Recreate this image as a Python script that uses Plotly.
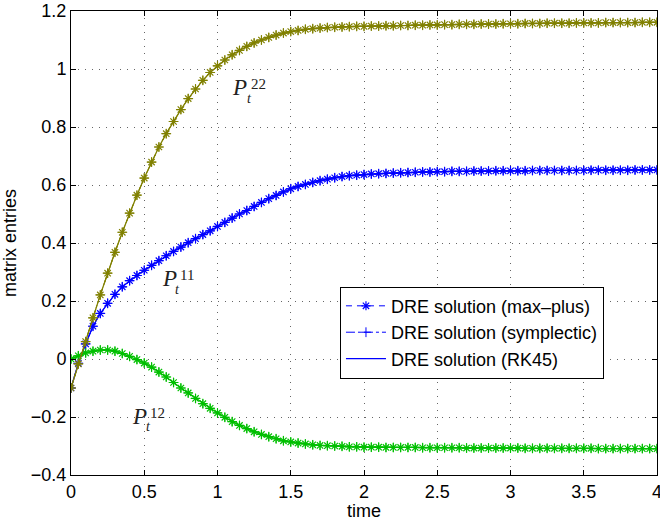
import plotly.graph_objects as go

# time grid
t = [0.0, 0.05, 0.1, 0.15, 0.2, 0.25, 0.3, 0.35, 0.4, 0.45,
     0.5, 0.55, 0.6, 0.65, 0.7, 0.75, 0.8, 0.85, 0.9, 0.95,
     1.0, 1.05, 1.1, 1.15, 1.2, 1.25, 1.3, 1.35, 1.4, 1.45,
     1.5, 1.55, 1.6, 1.65, 1.7, 1.75, 1.8, 1.85, 1.9, 1.95,
     2.0, 2.05, 2.1, 2.15, 2.2, 2.25, 2.3, 2.35, 2.4, 2.45,
     2.5, 2.55, 2.6, 2.65, 2.7, 2.75, 2.8, 2.85, 2.9, 2.95,
     3.0, 3.05, 3.1, 3.15, 3.2, 3.25, 3.3, 3.35, 3.4, 3.45,
     3.5, 3.55, 3.6, 3.65, 3.7, 3.75, 3.8, 3.85, 3.9, 3.95, 4.0]

P11 = [-0.100, -0.015, 0.052, 0.113, 0.157, 0.192, 0.223, 0.249, 0.270, 0.288,
       0.306, 0.323, 0.339, 0.356, 0.371, 0.386, 0.401, 0.415, 0.429, 0.442,
       0.457, 0.471, 0.486, 0.500, 0.512, 0.526, 0.540, 0.553, 0.564, 0.576,
       0.587, 0.595, 0.602, 0.609, 0.615, 0.620, 0.625, 0.629, 0.632, 0.634,
       0.636, 0.638, 0.639, 0.640, 0.641, 0.642, 0.643, 0.644, 0.645, 0.645,
       0.646, 0.646, 0.647, 0.647, 0.647, 0.648, 0.648, 0.648, 0.649, 0.649,
       0.649, 0.649, 0.649, 0.650, 0.650, 0.650, 0.650, 0.650, 0.650, 0.650,
       0.650, 0.651, 0.651, 0.651, 0.651, 0.651, 0.651, 0.652, 0.652, 0.652, 0.652]

P12 = [0.000, 0.011, 0.021, 0.027, 0.031, 0.031, 0.027, 0.019, 0.009, -0.002,
       -0.014, -0.028, -0.045, -0.062, -0.081, -0.100, -0.117, -0.136, -0.154, -0.170,
       -0.186, -0.201, -0.216, -0.229, -0.240, -0.251, -0.260, -0.268, -0.275, -0.282,
       -0.286, -0.290, -0.293, -0.296, -0.298, -0.299, -0.300, -0.301, -0.303, -0.303,
       -0.304, -0.304, -0.304, -0.305, -0.305, -0.305, -0.305, -0.305, -0.306, -0.306,
       -0.306, -0.306, -0.306, -0.306, -0.307, -0.307, -0.307, -0.307, -0.307, -0.307,
       -0.307, -0.307, -0.308, -0.308, -0.308, -0.308, -0.308, -0.308, -0.308, -0.308,
       -0.308, -0.308, -0.309, -0.309, -0.309, -0.309, -0.309, -0.309, -0.309, -0.309, -0.309]

P22 = [-0.100, -0.017, 0.060, 0.142, 0.221, 0.296, 0.368, 0.437, 0.503, 0.565,
       0.624, 0.679, 0.731, 0.777, 0.819, 0.860, 0.898, 0.931, 0.961, 0.988,
       1.011, 1.031, 1.049, 1.064, 1.078, 1.090, 1.100, 1.109, 1.117, 1.124,
       1.129, 1.133, 1.137, 1.139, 1.141, 1.143, 1.144, 1.145, 1.146, 1.147,
       1.147, 1.148, 1.148, 1.149, 1.149, 1.150, 1.150, 1.151, 1.151, 1.152,
       1.152, 1.153, 1.153, 1.154, 1.154, 1.154, 1.155, 1.155, 1.155, 1.156,
       1.156, 1.156, 1.157, 1.157, 1.157, 1.158, 1.158, 1.158, 1.158, 1.159,
       1.159, 1.159, 1.159, 1.160, 1.160, 1.160, 1.160, 1.160, 1.161, 1.161, 1.161]

series = [("11", P11, "#0000ff"), ("12", P12, "#00bf00"), ("22", P22, "#808000")]
legend_names = ["DRE solution (max\u2013plus)", "DRE solution (symplectic)", "DRE solution (RK45)"]

x_ticks = [0, 0.5, 1, 1.5, 2, 2.5, 3, 3.5, 4]
y_ticks = [-0.4, -0.2, 0, 0.2, 0.4, 0.6, 0.8, 1, 1.2]

FONT = "Liberation Sans, Arial, sans-serif"
SERIF = "Liberation Serif, Times New Roman, serif"

fig = go.Figure()
for i, (lab, vals, col) in enumerate(series):
    first = (i == 0)
    # RK45 solid
    fig.add_trace(go.Scatter(
        x=t, y=vals, mode="lines", name=legend_names[2], showlegend=first,
        legendrank=3, line=dict(color=col, width=1.3)))
    # symplectic dash-dot with plus markers
    fig.add_trace(go.Scatter(
        x=t, y=vals, mode="lines+markers", name=legend_names[1], showlegend=first,
        legendrank=2, line=dict(color=col, width=1, dash="dashdot"),
        marker=dict(symbol="cross-thin-open", size=7, color=col,
                    line=dict(width=1, color=col))))
    # max-plus dashed with star markers
    fig.add_trace(go.Scatter(
        x=t, y=vals, mode="lines+markers", name=legend_names[0], showlegend=first,
        legendrank=1, line=dict(color=col, width=1, dash="6px,5px"),
        marker=dict(symbol="asterisk-open", size=7.5, color=col,
                    line=dict(width=1.2, color=col))))

annots = []
labels_pos = [
    # (P pos), (sup pos), (sub pos)
    ("22", (1.152, 0.935), (1.282, 0.947), (1.215, 0.899)),
    ("11", (0.670, 0.277), (0.794, 0.289), (0.729, 0.241)),
    ("12", (0.468, -0.198), (0.593, -0.186), (0.531, -0.234)),
]
for lab, ppos, suppos, subpos in labels_pos:
    annots.append(dict(x=ppos[0], y=ppos[1], xref="x", yref="y", text="<i>P</i>",
                       showarrow=False, font=dict(family=SERIF, size=23, color="#222")))
    annots.append(dict(x=suppos[0], y=suppos[1], xref="x", yref="y", text=lab,
                       showarrow=False, font=dict(family=SERIF, size=15, color="#222")))
    annots.append(dict(x=subpos[0], y=subpos[1], xref="x", yref="y", text="<i>t</i>",
                       showarrow=False, font=dict(family=SERIF, size=14, color="#222")))

axis_common = dict(
    showline=True, linecolor="black", linewidth=1, mirror="ticks",
    ticks="inside", ticklen=5, tickcolor="black",
    showgrid=True, gridcolor="#666666", gridwidth=1, griddash="1px,6px",
    zeroline=False, tickfont=dict(family=FONT, size=18, color="black"),
    automargin=False, ticklabeloverflow="allow",
)

fig.update_layout(
    width=660, height=521,
    margin=dict(l=71, r=3, t=11, b=46),
    paper_bgcolor="white", plot_bgcolor="white",
    font=dict(family=FONT, size=18, color="black"),
    xaxis=dict(range=[0, 4], tickvals=x_ticks,
               title=dict(text="time", font=dict(family=FONT, size=18), standoff=2),
               **axis_common),
    yaxis=dict(range=[-0.4, 1.2], tickvals=y_ticks,
               title=dict(text="matrix entries", font=dict(family=FONT, size=18), standoff=10),
               **axis_common),
    legend=dict(x=0.459, y=0.406, xanchor="left", yanchor="top",
                bgcolor="white", bordercolor="black", borderwidth=1,
                font=dict(family=FONT, size=18, color="black"),
                traceorder="normal", itemwidth=40),
    annotations=annots,
    showlegend=True,
)

fig.write_html("out.html", config={"displayModeBar": False},
               post_script="document.body.style.margin='0';document.body.style.overflow='hidden';")
